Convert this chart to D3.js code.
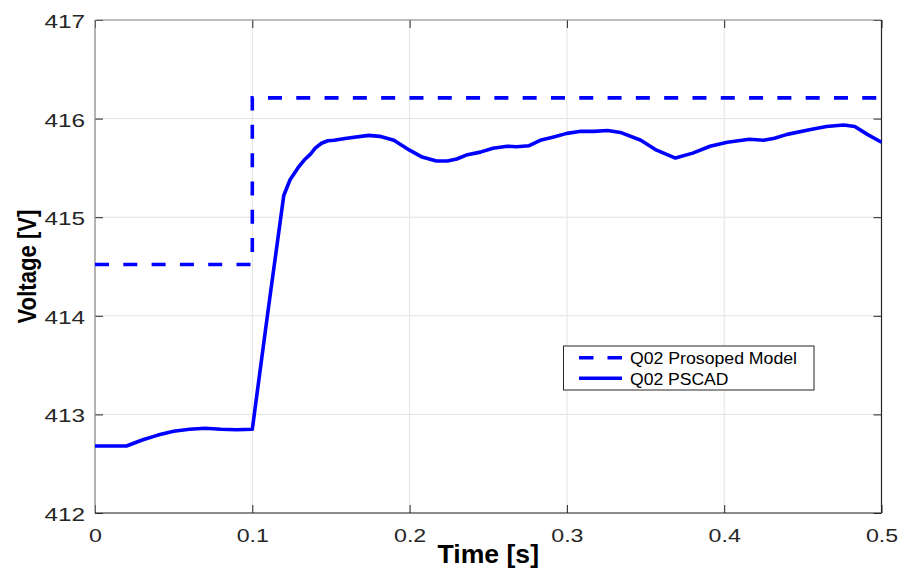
<!DOCTYPE html>
<html>
<head>
<meta charset="utf-8">
<script src="https://cdn.jsdelivr.net/npm/d3@7"></script>
<style>
html,body{margin:0;padding:0;background:#fff;}
svg{display:block;}
text{font-family:"Liberation Sans",Arial,Helvetica,sans-serif;}
</style>
</head>
<body>
<script>
// ---- data ----
const timeModel = [0, 0.1, 0.1, 0.5];
const voltModel = [414.52, 414.52, 416.21, 416.21];

const timePSCAD = [0, 0.02, 0.03, 0.04, 0.05, 0.06, 0.07, 0.08, 0.09, 0.1, 0.11, 0.12, 0.124, 0.129, 0.133, 0.137, 0.14, 0.144, 0.148, 0.152, 0.16, 0.174, 0.181, 0.19, 0.2, 0.208, 0.217, 0.224, 0.23, 0.236, 0.245, 0.253, 0.262, 0.268, 0.276, 0.283, 0.291, 0.3, 0.308, 0.317, 0.326, 0.334, 0.347, 0.357, 0.369, 0.38, 0.391, 0.402, 0.416, 0.425, 0.432, 0.44, 0.455, 0.465, 0.476, 0.483, 0.491, 0.5];
const voltPSCAD = [412.68, 412.68, 412.74, 412.79, 412.83, 412.85, 412.86, 412.85, 412.845, 412.85, 414.05, 415.22, 415.38, 415.50, 415.58, 415.64, 415.70, 415.75, 415.775, 415.78, 415.80, 415.83, 415.82, 415.78, 415.68, 415.61, 415.57, 415.57, 415.59, 415.63, 415.66, 415.70, 415.72, 415.715, 415.725, 415.78, 415.81, 415.85, 415.87, 415.87, 415.88, 415.86, 415.78, 415.68, 415.60, 415.65, 415.72, 415.76, 415.79, 415.78, 415.80, 415.84, 415.89, 415.92, 415.935, 415.92, 415.84, 415.76];

const xTicks = [0, 0.1, 0.2, 0.3, 0.4, 0.5];
const xTickLabels = ["0", "0.1", "0.2", "0.3", "0.4", "0.5"];
const yTicks = [412, 413, 414, 415, 416, 417];
const yTickLabels = ["412", "413", "414", "415", "416", "417"];
const seriesNames = ["Q02 Prosoped Model", "Q02 PSCAD"];
const xTitle = "Time [s]";
const yTitle = "Voltage [V]";

// ---- layout ----
const W = 899, H = 568;
const L = 95, R = 881.5, T = 20, B = 513;
const blue = "#0000ff";

const svg = d3.select("body").append("svg").attr("width", W).attr("height", H);

const x = d3.scaleLinear().domain([0, 0.5]).range([L, R]);
const y = d3.scaleLinear().domain([412, 417]).range([B, T]);

// grid
const grid = svg.append("g");
grid.selectAll("line.gx").data(xTicks).enter().append("line")
  .attr("x1", d => x(d)).attr("x2", d => x(d)).attr("y1", T).attr("y2", B)
  .attr("stroke", "#e3e3e3").attr("stroke-width", 1);
grid.selectAll("line.gy").data(yTicks).enter().append("line")
  .attr("y1", d => y(d)).attr("y2", d => y(d)).attr("x1", L).attr("x2", R)
  .attr("stroke", "#e3e3e3").attr("stroke-width", 1);

// axes with d3 axis generators (ticks inward)
function styleAxis(g) {
  g.select(".domain").remove();
  g.selectAll(".tick line").attr("stroke", "#262626").attr("stroke-width", 1);
}
const tl = 8;
const axB = svg.append("g").attr("transform", `translate(0,${B})`)
  .call(d3.axisBottom(x).tickValues(xTicks).tickSizeInner(-tl).tickSizeOuter(0).tickFormat((d, i) => xTickLabels[i]));
const axT = svg.append("g").attr("transform", `translate(0,${T})`)
  .call(d3.axisTop(x).tickValues(xTicks).tickSizeInner(-tl).tickSizeOuter(0).tickFormat(""));
const axL = svg.append("g").attr("transform", `translate(${L},0)`)
  .call(d3.axisLeft(y).tickValues(yTicks).tickSizeInner(-tl).tickSizeOuter(0).tickFormat((d, i) => yTickLabels[i]));
const axR = svg.append("g").attr("transform", `translate(${R},0)`)
  .call(d3.axisRight(y).tickValues(yTicks).tickSizeInner(-tl).tickSizeOuter(0).tickFormat(""));
[axB, axT, axL, axR].forEach(styleAxis);

// tick label styling
axB.selectAll(".tick text").attr("y", 29).attr("dy", 0)
  .attr("font-size", 19).attr("fill", "#262626")
  .style("font-family", "'Liberation Sans',Arial,sans-serif");
axL.selectAll(".tick text").attr("x", -10).attr("dy", 0).attr("y", 7.5)
  .attr("font-size", 19).attr("fill", "#262626")
  .style("font-family", "'Liberation Sans',Arial,sans-serif");

// box lines
svg.append("line").attr("x1", L).attr("x2", R).attr("y1", T).attr("y2", T).attr("stroke", "#8a8a8a").attr("stroke-width", 1.2);
svg.append("line").attr("x1", L).attr("x2", L).attr("y1", T).attr("y2", B).attr("stroke", "#8a8a8a").attr("stroke-width", 1.2);
svg.append("line").attr("x1", L).attr("x2", R).attr("y1", B).attr("y2", B).attr("stroke", "#262626").attr("stroke-width", 1.2);
svg.append("line").attr("x1", R).attr("x2", R).attr("y1", T).attr("y2", B).attr("stroke", "#262626").attr("stroke-width", 1.2);

// series
const line = d3.line().x(d => x(d[0])).y(d => y(d[1]));
const modelPts = timeModel.map((t, i) => [t, voltModel[i]]);
const pscadPts = timePSCAD.map((t, i) => [t, voltPSCAD[i]]);

svg.append("path").attr("d", line(pscadPts))
  .attr("fill", "none").attr("stroke", blue).attr("stroke-width", 3.6)
  .attr("stroke-linejoin", "round");
svg.append("path").attr("d", line(modelPts))
  .attr("fill", "none").attr("stroke", blue).attr("stroke-width", 3.6)
  .attr("stroke-dasharray", "14,14.3");

// legend
const lg = svg.append("g");
lg.append("rect").attr("x", 563.5).attr("y", 346).attr("width", 250.5).attr("height", 44)
  .attr("fill", "#fff").attr("stroke", "#262626").attr("stroke-width", 1);
const legRows = [357.7, 378.3];
lg.append("line").attr("x1", 579).attr("x2", 622).attr("y1", legRows[0]).attr("y2", legRows[0])
  .attr("stroke", blue).attr("stroke-width", 3.5).attr("stroke-dasharray", "14.5,14");
lg.append("line").attr("x1", 579).attr("x2", 622).attr("y1", legRows[1]).attr("y2", legRows[1])
  .attr("stroke", blue).attr("stroke-width", 3.5);
const legTexts = lg.selectAll("text.leg").data(seriesNames).enter().append("text")
  .attr("class", "leg")
  .attr("x", 630).attr("y", (d, i) => legRows[i] + 6.5)
  .attr("font-size", 16).attr("fill", "#000").text(d => d);

// axis titles
const xt = svg.append("text").attr("x", (L + R) / 2).attr("y", 563)
  .attr("text-anchor", "middle").attr("font-size", 25).attr("font-weight", "bold")
  .attr("fill", "#000").text(xTitle);
const yt = svg.append("text")
  .attr("transform", `translate(36,${(T + B) / 2}) rotate(-90)`)
  .attr("text-anchor", "middle").attr("font-size", 25).attr("font-weight", "bold")
  .attr("fill", "#000").text(yTitle);

// stretch texts to match measured widths
function fit(sel, lenFn) {
  sel.each(function (d, i) {
    const len = lenFn(this, d, i);
    d3.select(this).attr("textLength", len).attr("lengthAdjust", "spacingAndGlyphs");
  });
}
fit(axB.selectAll(".tick text"), el => el.getComputedTextLength() * 1.22);
fit(axL.selectAll(".tick text"), el => el.getComputedTextLength() * 1.28);
fit(legTexts, (el, d, i) => [167, 98.5][i]);
fit(xt, () => 101.5);
fit(yt, () => 114);
</script>
</body>
</html>
